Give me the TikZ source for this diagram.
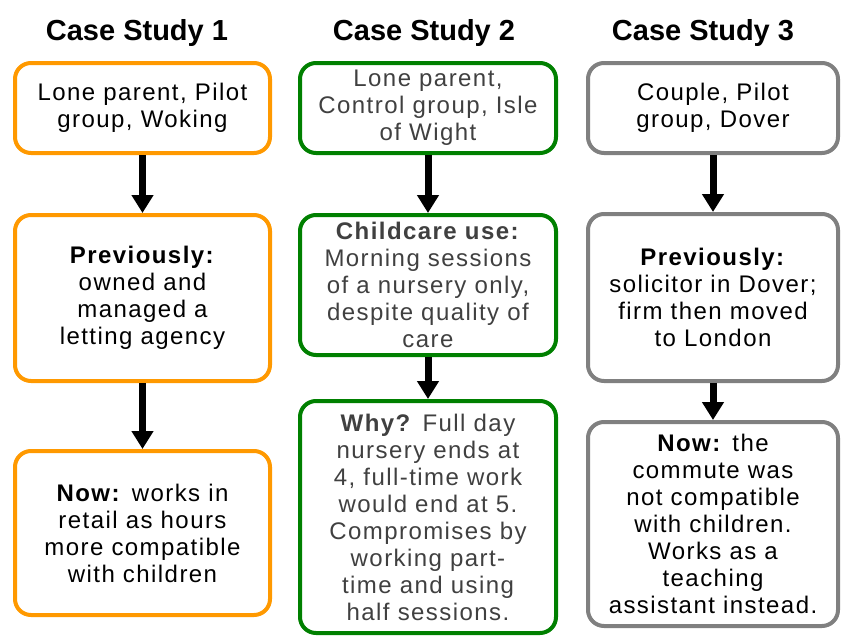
\documentclass[tikz,border=0pt]{standalone}
\usepackage{fontspec}
\setmainfont{Liberation Sans}
\newfontfamily\boxfont{Liberation Sans}[LetterSpace=6]
\usepackage{tikz}
\usetikzlibrary{positioning,arrows.meta}
\definecolor{csorange}{RGB}{255,153,0}
\definecolor{csgreen}{RGB}{0,128,0}
\definecolor{csgrey}{RGB}{128,128,128}
\definecolor{cstext}{RGB}{64,64,64}
\tikzset{
  casebox/.style={draw, line width=4pt, rounded corners=16pt, fill=white,
    align=center, inner sep=0pt, font=\boxfont\fontsize{24}{27}\selectfont},
  casetitle/.style={anchor=base, font=\bfseries\fontsize{29}{32}\selectfont},
  flow/.style={line width=7pt, -{Triangle[width=21pt,length=18pt]}}
}

\begin{document}
\begin{tikzpicture}[x=1pt, y=-1pt]
      \useasboundingbox (0,0) rectangle (841,637);

      \node[casetitle] (T1) at (137,40) {Case Study 1};
      \node[casetitle] (T2) at (424,40) {Case Study 2};
      \node[casetitle] (T3) at (703,40) {Case Study 3};

      \node[casebox, draw=csorange, minimum width=255pt, minimum height=90pt] (A1) at (142.5,108) {Lone parent, Pilot\\group, Woking};
      \node[casebox, draw=csorange, minimum width=255pt, minimum height=166pt] (A2) [below=58pt of A1] {\textbf{Previously:}\\owned and\\managed a\\letting agency};
      \node[casebox, draw=csorange, minimum width=255pt, minimum height=164pt] (A3) [below=66pt of A2] {\textbf{Now:} works in\\retail as hours\\more compatible\\with children};

      \node[casebox, draw=csgreen, text=cstext, minimum width=256pt, minimum height=90pt] (B1) at (428,108) {Lone parent,\\Control group, Isle\\of Wight};
      \node[casebox, draw=csgreen, text=cstext, minimum width=256pt, minimum height=140pt] (B2) [below=58pt of B1] {\textbf{Childcare use:}\\Morning sessions\\of a nursery only,\\despite quality of\\care};
      \node[casebox, draw=csgreen, text=cstext, minimum width=256pt, minimum height=232pt] (B3) [below=42pt of B2] {\textbf{Why?} Full day\\nursery ends at\\4, full-time work\\would end at 5.\\Compromises by\\working part-\\time and using\\half sessions.};

      \node[casebox, draw=csgrey, minimum width=250pt, minimum height=90pt] (C1) at (713,108) {Couple, Pilot\\group, Dover};
      \node[casebox, draw=csgrey, minimum width=250pt, minimum height=167pt] (C2) [below=57pt of C1] {\textbf{Previously:}\\solicitor in Dover;\\firm then moved\\to London};
      \node[casebox, draw=csgrey, minimum width=250pt, minimum height=204pt] (C3) [below=37pt of C2] {\textbf{Now:} the\\commute was\\not compatible\\with children.\\Works as a\\teaching\\assistant instead.};

      \draw[flow] (A1) to (A2);
      \draw[flow] (A2) to (A3);
      \draw[flow] (B1) to (B2);
      \draw[flow] (B2) to (B3);
      \draw[flow] (C1) to (C2);
      \draw[flow] (C2) to (C3);
\end{tikzpicture}
\end{document}
